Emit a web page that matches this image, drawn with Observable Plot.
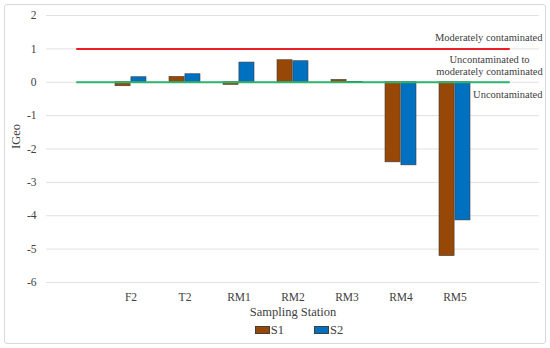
<!DOCTYPE html>
<html>
<head>
<meta charset="utf-8">
<script src="https://cdn.jsdelivr.net/npm/d3@7"></script>
<script src="https://cdn.jsdelivr.net/npm/@observablehq/plot@0.6"></script>
<style>
  body { margin: 0; background: #fff; }
  #wrap { position: relative; width: 550px; height: 348px; font-family: "Liberation Serif", "Times New Roman", serif; }
  #border { position: absolute; left: 4px; top: 4px; width: 542px; height: 340px; border: 1px solid #d9d9d9; border-radius: 3px; box-sizing: border-box; pointer-events: none; }
  #chart { position: absolute; left: 0; top: 0; }
  #legend { position: absolute; left: 0; top: 323px; width: 550px; display: flex; justify-content: center; gap: 30px; font-size: 12.5px; color: #404040; line-height: 14px; padding-left: 48px; box-sizing: border-box; }
  .item { display: flex; align-items: center; }
  .sw { display: inline-block; width: 13px; height: 6px; border: 0.6px solid #3f3f3f; margin-right: 1px; }
</style>
</head>
<body>
<div id="wrap">
  <div id="chart"></div>
  <div id="legend"></div>
  <div id="border"></div>
</div>
<script>
// ---- data ----
const stations = ["F2", "T2", "RM1", "RM2", "RM3", "RM4", "RM5"];
const padCategories = ["start", "end"];
const seriesNames = ["S1", "S2"];
const seriesColors = ["#974806", "#0070c0"];
const s1Values = [-0.12, 0.16, -0.08, 0.66, 0.07, -2.40, -5.21];
const s2Values = [0.15, 0.24, 0.59, 0.63, 0.01, -2.49, -4.14];
const thresholdValues = [1, 0];
const thresholdColors = ["#ee1c24", "#2eb36b"];
const zoneLabels = ["Moderately contaminated", "Uncontaminated to\nmoderately contaminated", "Uncontaminated"];
const zoneLabelY = [1.34, 0.5, -0.37];
const zoneLabelCentered = [false, true, false];
const yTicks = [2, 1, 0, -1, -2, -3, -4, -5, -6];
const xLabel = "Sampling Station";
const yLabel = "IGeo";

// ---- tables ----
const xDomain = [padCategories[0], ...stations, padCategories[1]];
const rowsS1 = stations.map((s, i) => ({station: s, value: s1Values[i]}));
const rowsS2 = stations.map((s, i) => ({station: s, value: s2Values[i]}));
const thresholdRows = thresholdValues.flatMap((v, k) =>
  padCategories.map(c => ({x: c, y: v, k}))
);
const labelRows = zoneLabels.map((t, i) => ({t, y: zoneLabelY[i], c: zoneLabelCentered[i]}));

const textColor = "#404040";
const half = 15.9;
const labelFont = 10.5;

const chart = Plot.plot({
  width: 550,
  height: 348,
  marginLeft: 46,
  marginRight: 11,
  marginTop: 15,
  marginBottom: 66,
  style: {fontFamily: "'Liberation Serif', 'Times New Roman', serif", fontSize: "11px", color: textColor, background: "transparent"},
  x: {type: "band", domain: xDomain, paddingInner: 0.42, paddingOuter: 0.21},
  y: {domain: [-6, 2]},
  marks: [
    Plot.ruleY(yTicks, {stroke: "#e1e1e1", strokeWidth: 1}),
    Plot.barY(rowsS1, {x: "station", y: "value", fill: seriesColors[0], stroke: "#3f3f3f", strokeWidth: 0.6, insetRight: half}),
    Plot.barY(rowsS2, {x: "station", y: "value", fill: seriesColors[1], stroke: "#3f3f3f", strokeWidth: 0.6, insetLeft: half}),
    Plot.lineY(thresholdRows, {x: "x", y: "y", z: "k", stroke: d => thresholdColors[d.k], strokeWidth: 2}),
    Plot.axisY({ticks: yTicks, tickSize: 0, tickPadding: 10, tickFormat: d => String(d), label: null, fontSize: 11.5, fill: textColor}),
    Plot.axisX({tickSize: 0, tickPadding: 10, tickFormat: d => stations.includes(d) ? d : "", label: null, fontSize: 11.5, fill: textColor}),
    Plot.text(labelRows.filter(d => !d.c), {text: "t", y: "y", frameAnchor: "right", textAnchor: "end", dx: 3, fontSize: labelFont, fill: textColor}),
    Plot.text(labelRows.filter(d => d.c), {text: "t", y: "y", frameAnchor: "right", textAnchor: "middle", dx: -50, fontSize: labelFont, fill: textColor, lineHeight: 1.14}),
    Plot.text([xLabel], {frameAnchor: "bottom", dy: 33, fontSize: 12.5, fill: textColor}),
    Plot.text([yLabel], {frameAnchor: "left", rotate: -90, dx: -31, fontSize: 12.5, fill: textColor})
  ]
});
document.getElementById("chart").appendChild(chart);

// legend
const legend = document.getElementById("legend");
seriesNames.forEach((name, i) => {
  const item = document.createElement("span");
  item.className = "item";
  const sw = document.createElement("span");
  sw.className = "sw";
  sw.style.background = seriesColors[i];
  item.appendChild(sw);
  item.appendChild(document.createTextNode(name));
  legend.appendChild(item);
});
</script>
</body>
</html>
